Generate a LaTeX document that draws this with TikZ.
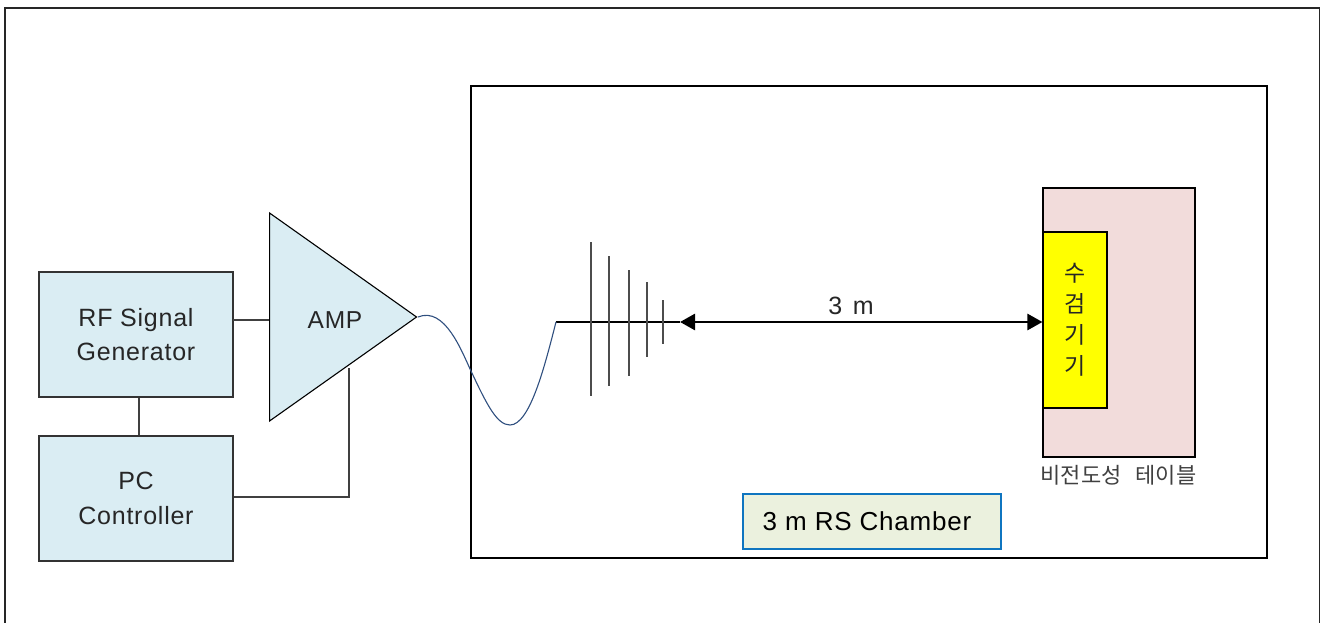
\documentclass[tikz,border=0pt]{standalone}
\usepackage{fontspec}
\setmainfont{Liberation Sans}[LetterSpace=3]
\newfontfamily\korfont{Noto Sans CJK KR}
\usetikzlibrary{arrows.meta, positioning, shapes.geometric}
\definecolor{boxblue}{HTML}{DAEDF3}
\definecolor{tablepink}{HTML}{F2DCDB}
\definecolor{chamberback}{HTML}{EBF1DE}
\definecolor{chamberline}{HTML}{0F75C0}
\definecolor{cableblue}{HTML}{2F4F7F}
\definecolor{eutyellow}{HTML}{FFFF00}
\tikzset{>=stealth}
\tikzset{
	blockbox/.style={draw=black!80, fill=boxblue, line width=1.1pt, minimum width=194pt, minimum height=125pt, align=center, inner sep=0pt, text=black!85, font=\fontsize{25}{34.5}\selectfont},
	wire/.style={draw=black!75, line width=1.3pt},
	element/.style={draw=black!70, line width=1.4pt},
}

\begin{document}
\begin{tikzpicture}[x=1pt, y=-1pt]

			\useasboundingbox (0,0) rectangle (1326,623);
			\draw[black!85, line width=1.1pt] (5,623)--(5,8)--(1319.5,8)--(1319.5,623);
			\node[draw, line width=1.1pt, minimum width=796pt, minimum height=472pt, inner sep=0pt] (chamber) at (869,322) {};

			\node[blockbox] (rf) at (136,334.5) {RF Signal\\Generator};
			\node[blockbox] (pc) at (136,498.5) {PC\\Controller};
			\node[isosceles triangle, isosceles triangle stretches, shape border rotate=0, draw=black, fill=boxblue, line width=1.1pt, minimum width=208pt, minimum height=147pt, inner sep=0pt, anchor=lower side] (amp) at (269,317) {};
			\node[text=black!85, font=\fontsize{24.5}{28}\selectfont] (amplabel) at (335,320) {AMP};

			\node[draw=black, fill=tablepink, line width=1.1pt, minimum width=152pt, minimum height=269pt, inner sep=0pt] (table) at (1119,322.5) {};
			\node[draw=black, fill=eutyellow, line width=1.1pt, minimum width=64pt, minimum height=176pt, inner sep=0pt, align=center, text=black!85, font=\korfont\fontsize{23}{31}\selectfont] (eut) at (1075,320) {수\\검\\기\\기};
			\node[font=\korfont\fontsize{22}{26}\selectfont, text=black!75] (tablelabel) at (1118.5,475) {비전도성\hspace{14pt}테이블};
			\node[draw=chamberline, fill=chamberback, line width=1.2pt, minimum width=258pt, minimum height=55pt, inner sep=0pt, font=\fontsize{26}{28}\selectfont] (rsbox) at (872,521.5) {\hspace{-10pt}3 m RS Chamber};

			\coordinate (ant) at (556,322);
			\coordinate (anttip) at (680,322);
			\coordinate (rfout) at (233,320);
			\coordinate (ampin) at (269,320);
			\coordinate (pccorner) at (349,497);
			\coordinate (ampfoot) at (349,368);

			% feed line and log periodic elements
			\draw[black, line width=1.1pt] (ant)--(anttip);
			\foreach \x/\top/\bot in {591/242/396, 609/256/386, 629/270/376, 647/282/357, 663/300/344}
				\draw[element] (\x,\top)--(\x,\bot);

			\draw[wire] (rfout)--(ampin);
			\draw[wire] (rf.south -| 139,0)--(pc.north -| 139,0);
			\draw[wire] (pc.east |- pccorner)--(pccorner)--(ampfoot);
			\draw[cableblue, line width=1.1pt] (amp.apex) .. controls (445,306) and (462,352) .. (471,371) .. controls (487,405) and (497,425) .. (510,425) .. controls (530,425) and (545,365) .. (ant);

			\draw[{Triangle[length=15pt,width=16pt]}-{Triangle[length=15pt,width=16pt]}, line width=2.6pt] (anttip)--(eut.west |- anttip);
			\node[text=black!85, font=\fontsize{25}{28}\selectfont] (dist) at (851,306) {3\hspace{3pt} m};

			\end{tikzpicture}
\end{document}
